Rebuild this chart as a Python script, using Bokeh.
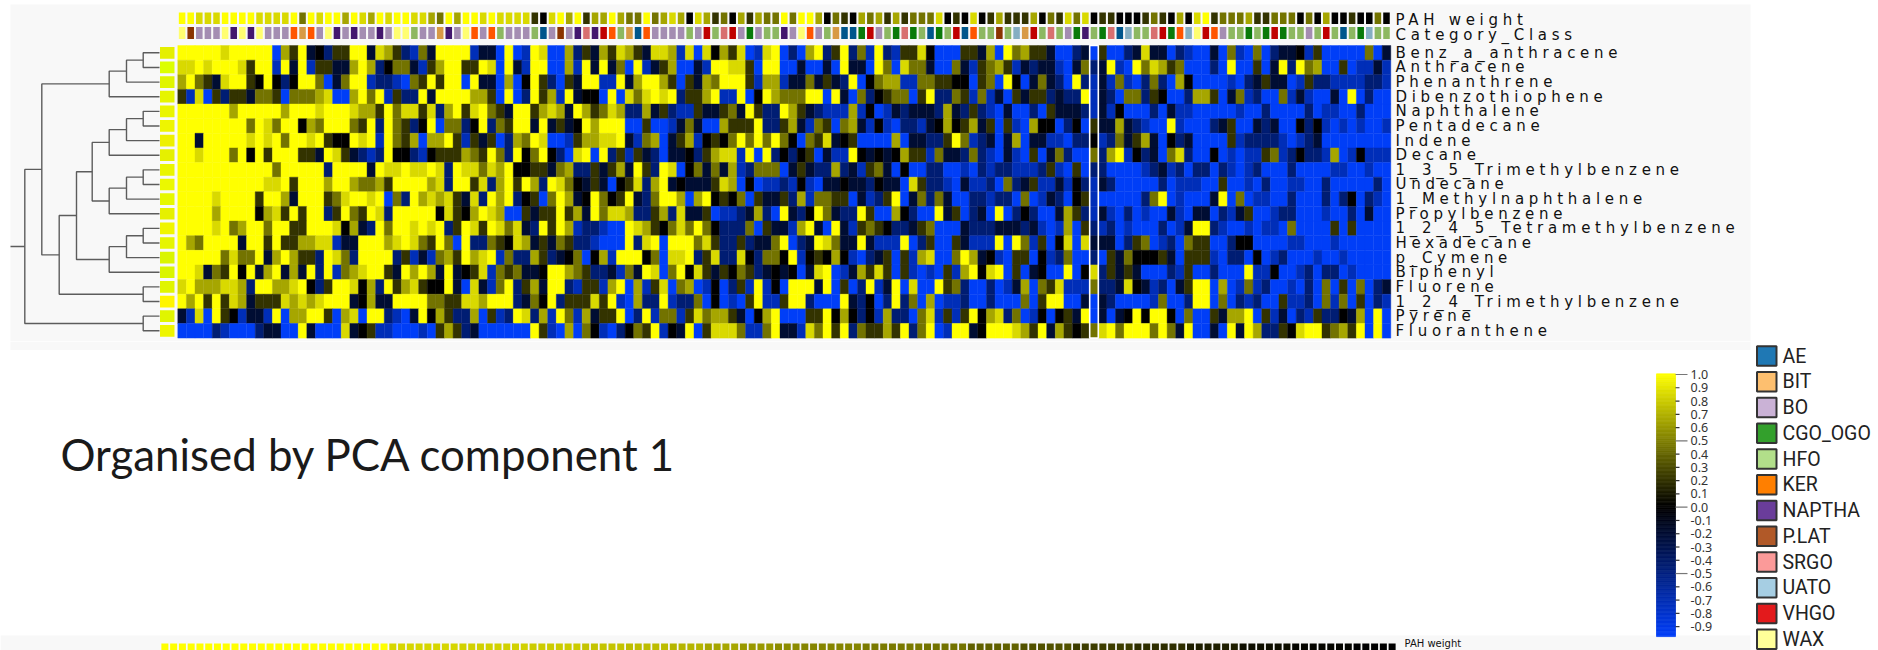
from bokeh.plotting import figure
from bokeh.layouts import column
from bokeh.models import Range1d
from bokeh.core.properties import value
from bokeh.embed import file_html
from bokeh.resources import INLINE

# ---------- data ----------
row_names = ["Benz_a_anthracene", "Anthracene", "Phenanthrene", "Dibenzothiophene", "Naphthalene",
             "Pentadecane", "Indene", "Decane", "1_3_5_Trimethylbenzene", "Undecane",
             "1_Methylnaphthalene", "Propylbenzene", "1_2_4_5_Tetramethylbenzene", "Hexadecane",
             "p_Cymene", "Biphenyl", "Fluorene", "1_2_4_Trimethylbenzene", "Pyrene", "Fluoranthene"]

# one letter per cell, see LEVEL
LEVEL = {"Y": 1.0, "U": .85, "O": .65, "o": .45, "d": .2, "k": 0.0, "n": -.2, "N": -.45, "B": -.72, "b": -.97}

benz = "YYYYYUYYYYYbOdYnkNddYYnUOdNBonYYYYBnnb" + "YbBYUbbONdnOdUOdnUUOBUbUkOdUbBUYbNbOYNdYNoBYNBddUkbbbddnO" + "b" + "YoOddnbbNnbdbbNnUnnbNBbbnboBbobNnnkBdbbbbbobn"
anth = "UUYUYYYUdYYBYnYBddnnOYONkoonBdOYYddYUb" + "YnBYYbbOBYnYnobYBndObbnBYYUUdbYYbbnbbnbYnnbYobUoonbbonBdo" + "O" + "dBnNnnBbnoNnYBbYoUOdobbbNbYbbdbnYNYoObbdbBBnB"
phen = "OYodnUYYdkYkNkYYobnoYYBNNBbodYdYYbYnnb" + "ObkYdNbdnYYBBYnOYYOdbdnOoYYYdBOOBnnondnNYbkoOOBBooddkkbdo" + "b" + "YkbnonNbYNBnBoBbNoNbOkbbbbBbNndnnbBdNNBBBBNNB"
dibe = "dBUbdNddnoodboooOUbbOYoYBdNNYnYYYYOOdb" + "YbNYdOBYnkkbYbUoUYUYNddOYBBYbkYOoooYYbYnboNkdoobdYNNodBoB" + "n" + "bdnddNnNNYBnNbooNdkbbNOOdbnoBNbboBnBbbnbYbNbb"
naph = "YYYYYYOYYYYYOYYYUYYYUOOdYoUUdUNOYdUYod" + "nYYdOUOnYOdoUONNOndNBBdnndonYdNNYOdnNBBBOBkbBnNnnnNOnNdNB" + "b" + "nbbNbdnnnNBnBkbbbNbnBBbbbbbBbbNbbbbNbBBbbNbbb"
pent = "YYYYYYYYoYUoYYkOoYYYodYNYodNkYbooNkYNo" + "dYYnYndnkYOYYYbbdbbBnonbbOdddYNNdOnBodboOnBkBbNNBnkOkdOnd" + "b" + "dBbOkkbNkbdnnOnNBbbYBbbbNndbbnNnbbkNkBbBbBbbB"
inde = "YYnYYYYYUYUYoYYUYdkkYUYBYodObOOYdBdndb" + "NOoYUbbBdOOUUYnBoObndOBkdkoYoYoYokbodUnkdbbbbObnnNNdYoBNn" + "b" + "nObnnBBbNNkBNondOnbkNnbbbbdBNNNNBbBNnbbbbbbbb"
deca = "YYUYYYoYkYdYYYddnYUdnNBNYkkNBkdddOodYo" + "NYkoYkNbUYbYNdBdnNbnnkNdOUUBYbYNkNkdbnBBYknknkOddBonnNoNB" + "b" + "nBbdbnoNbboNOYBkNnboUNbbkbBbBBdoBNkNNBObBkBBB"
t135 = "YYYYYYYYYYYoYYYYYNYYYYnYUUYUUYUNYUUoUO" + "YkkddnoONNdndOnYdNYUbkononOBNooobndnNNONnBdonbkbbNNbbBbNB" + "N" + "NBBBNdBbdbNNbbbbBNnBNbNNbNBbBNbbbNbbbbBBbbBbb"
unde = "YYYYYYYYYYUUYdYYYOYYOooOdYYYYOUNYYdUNO" + "YdYONYUokndnbkdUNOYnknnndUObkbBBNBkBbnnknnNknnbUdNNBbnBBN" + "b" + "oNndBBnBkNBnNbbbbbNbBBBbbdbbBbNbbBBbbNbbbbbNb"
mnap = "YYYYUYYYYdYYOnYYYdoUYYUYboNYOUOUdnUNYO" + "YNkdboYOnkYokdYnNoYYObOYkdkobdnndNOBooddbnBNdYbnoNonbbNNB" + "N" + "NbobBnNbkdBbbbbbNoYbBbbbnYbobBBbbNbbbNbNkbNBb"
prop = "YYYYOYYYYkOUdYdYYNdYodYUNYYYYYkUdkOYUO" + "bbdnddYdOnYoUUONNdONUnndbBBNnONbYnNkYonNNYdbbOkNbbYndbNnb" + "Y" + "bNkNbbnOdNBnBbNbBbbnBbnnbNBndbbBNNbbbBbbNbnbb"
t1245 = "YYYYUYoOYYoYYddYYYUkOnNYoYYUYUYNdYUdYU" + "oUnNYdYOBNNBbbYUOdkoUoYokNNNobdnnBOYnbYnBdodkNNndobbbnNNN" + "n" + "nnNnBbBObdNBNbBbbbNbBnYYNBbbBbBBbobbbbdbdbbbb"
hexa = "YOoYYYYnYYdYddOOUUBnnYYYOUYUodYobYNNod" + "kUOndnodNNBbbbYNUYbYYYoUdNNdNnnoYbNnYUonnYnBBBYbNdbbdnBBB" + "Y" + "bYoBdbkUbUnnnbNdobBNboddbbNkkbbbbBBbbbBbbbbbb"
cyme = "YYYYYoUooYnOYOddNYUoNYYYYNdBnBoOdYOUYB" + "oNNOdNnkobkOBYYYkobUUYNdUNNUkNookYBkdkOkBbNndbdBOUbboYOnk" + "B" + "bddbkBNobbNbdnokkkdnbdddBbNNbkbBNbbbBbbBbbbbb"
biph = "YYUnodYkYnOYnOnYNYBoOUYYdnYOYOnYnkdUBo" + "donnkYYOodNNnBonYUboYkUdndkodNnknkbnUYbBnOdUdbdBbBbdBOYkU" + "Y" + "bdbnkbbYbkUNdndnbbbNBdbbNbbbYBBkbbBNbNNbBbbbb"
fluo = "UYOOOUUONYYOOUYkNdYYUkONYdOUdkkYnbUnBo" + "YNdOnYYNBddBOYbOBdUboObBkbNdBYBkbYYYnYbdbNYBnYbUbbYdoNbbN" + "b" + "BnObodUBBBoNNnUknBNbndYYbObBoBNbbBbNbobdbobNn"
t124 = "YOYdYdUOndddUOUOUYYYnkOnnYYYYooddUUOYY" + "YNnokYNdddUdYBbONNYBNNobkbBbdYBBdYYNbbbYnNkbNYNobObBBNbbN" + "b" + "bbobdYYbbnbnNbbbbBobbNYYbobNBNbbdBBNboBobdbNB"
pyre = "nBUbYdkBnnBYbOOYYdbOUbYYNBbnYkOdNNObdB" + "NYUNOBYoBOnddYbNYBooBdUoOOdnbkOYbbbddYkOkNkBONNboUBdBdYkO" + "U" + "NobBkbkdnYbnbnkYkYYkbobbdnOOYbdBnbNBdNNknObYb"
flan = "bbbbNBbbbNnnbbYnbbbUnkdBBbbbBbdOdNnbbb" + "bbbYdBbObokBbNkodYBknYbdUUUoBBoYnnBUoYdYNoddOdYNoYbBYYnkY" + "Y" + "YUOdYnOdkdoUYoYYYoYonYbbnbYnYONNdkUYYdoOdYbYb"

pah_weight = "YYUUUYYYYUUUUYoYUYYOYUOYUYYUUOoYOYYUYU"[:38] + "UUUdkUYOYdOOYOooYoOUOkUOdokOdOooYoYYOkodkOoOdOdoooUkdkUkd" + "O" + "dddOkodUoUkddkkkdodkOkUYdoooOddoookokOkkdkkok"
category_class = "WPBBBWNWNWBBBKIKBWNBNBBNBWWHBBINBWKBKH" + "BBBHABPBNSNVKHIAKBBBBHBVHSVBCBHHNBWKBHIAACVBHCSCHACHVAKHHP" + "HUIVHSHBCNHCSAUHHSVCKUWVKBHHCHCVCHHBHVHAHCUHH"

cat_names = ["AE", "BIT", "BO", "CGO_OGO", "HFO", "KER", "NAPTHA", "P.LAT", "SRGO", "UATO", "VHGO", "WAX"]
cat_codes = ["A", "I", "B", "C", "H", "K", "N", "P", "S", "U", "V", "W"]
legend_colors = ["#1f78b4", "#fdbf6f", "#cab2d6", "#33a02c", "#b2df8a", "#ff7f00", "#6a3d9a", "#b15928", "#fb9a99", "#a6cee3", "#e31a1c", "#ffff99"]
strip_colors = ["#00568c", "#d89a45", "#a48db2", "#0a7a0a", "#8db861", "#ff5500", "#43176e", "#8a3400", "#d87070", "#85aec2", "#c00000", "#fffe70"]

row_tags = ["#e5ef00", "#dcff00", "#e0f500", "#e6f500", "#eaf500", "#eef500", "#eef000", "#e5f000", "#eaf500", "#ebf800",
            "#e6f800", "#e6f000", "#f0f500", "#e6f500", "#daf500", "#daf500", "#e0f500", "#fff500", "#e0f500", "#eef500"]

lower_pah = ([1.0]*26 + [.84]*8 + [.82]*8 + [.80]*6 + [.77]*5 + [.74]*5 + [.71]*4 + [.65]*4 + [.6]*4 + [.55]*3
             + [.52]*7 + [.48]*7 + [.45]*5 + [.38]*6 + [.32]*6 + [.24]*7 + [.18]*6 + [.12]*6 + [.06]*6 + [.02]*7 + [0.0]*5)

scale_ticks = [1.0, .9, .8, .7, .6, .5, .4, .3, .2, .1, 0.0, -.1, -.2, -.3, -.4, -.5, -.6, -.7, -.8, -.9]
selected_col = 106

rows = [benz, anth, phen, dibe, naph, pent, inde, deca, t135, unde, mnap, prop, t1245, hexa, cyme, biph, fluo, t124, pyre, flan]
for s in rows + [pah_weight, category_class]:
    assert len(s) == 141, len(s)
assert len(lower_pah) == 141

# ---------- layout ----------
W, H_TOP, H_BOT = 1878, 341, 309
SPLIT = H_TOP
X0, CW = 177.3, 1213.0 / 141
Y0, RH = 45.0, 14.63
X0B, CWB = 160.0, 1236.0 / 141


def rgb(v):
    if v >= 0:
        c = round(255 * v)
        return "#%02x%02x00" % (c, c)
    return "#00%02x%02x" % (round(255 * .25 * -v), round(255 * -v))


def base(h, y_top, y_bot):
    p = figure(width=W, height=h, x_range=Range1d(0, W), y_range=Range1d(y_bot, y_top),
               output_backend="svg", toolbar_location=None, min_border=0, outline_line_color=None,
               background_fill_color="white", border_fill_color="white")
    p.axis.visible = False
    p.grid.visible = False
    return p


# ---------- top figure ----------
top = base(H_TOP, 0, SPLIT)
top.styles = {"letter-spacing": "4.7px"}
top.extra_x_ranges["col"] = Range1d((0 - X0) / CW, (W - X0) / CW)
top.extra_y_ranges["row"] = Range1d((SPLIT - Y0) / RH, (0 - Y0) / RH)

top.quad(left=[10], right=[1750], top=[4], bottom=[SPLIT], fill_color="#f8f8f8", line_color=None)

cl, cr, ct, cb, cc = [], [], [], [], []
for r, s in enumerate(rows):
    for c, ch in enumerate(s):
        cl.append(c); cr.append(c + 1); ct.append(r); cb.append(r + 1); cc.append(rgb(LEVEL[ch]))
top.quad(left=cl, right=cr, top=ct, bottom=cb, fill_color=cc, line_color=cc, line_width=0.4,
         x_range_name="col", y_range_name="row")

# selected column frame
top.quad(left=[selected_col], right=[selected_col + 1], top=[0], bottom=[len(rows)], fill_color=None,
         line_color="white", line_width=1.6, x_range_name="col", y_range_name="row")

# annotation strips
idx = list(range(141))
top.quad(left=[i + .12 for i in idx], right=[i + .88 for i in idx], top=[12] * 141, bottom=[23.5] * 141,
         fill_color=[rgb(LEVEL[ch]) for ch in pah_weight], line_color=None, x_range_name="col")
code_color = dict(zip(cat_codes, strip_colors))
top.quad(left=[i + .12 for i in idx], right=[i + .88 for i in idx], top=[26.6] * 141, bottom=[38.5] * 141,
         fill_color=[code_color[ch] for ch in category_class], line_color=None, x_range_name="col")

# row tags
top.quad(left=[159.5] * 20, right=[174] * 20, top=[r + .1 for r in range(20)], bottom=[r + .9 for r in range(20)],
         fill_color=row_tags, line_color=None, y_range_name="row")

# dendrogram
dend_x, dend_y = [], []


def leaf(r):
    return (r + .5, 159.0)


def join(a, b, x):
    dend_x.append([a[1], x, x, b[1]])
    dend_y.append([a[0], a[0], b[0], b[0]])
    return ((a[0] + b[0]) / 2, x)


A = join(join(join(leaf(0), leaf(1), 142.7), leaf(2), 126), leaf(3), 108.7)
F = join(join(join(leaf(4), leaf(5), 142.7), leaf(6), 126), leaf(7), 108.7)
G = join(join(join(leaf(8), leaf(9), 142.7), leaf(10), 126), leaf(11), 108.7)
E = join(join(join(leaf(12), leaf(13), 142.7), leaf(14), 126), leaf(15), 108.7)
C = join(join(F, G, 91.7), E, 76)
B = join(C, join(leaf(16), leaf(17), 142.7), 58.7)
R = join(join(A, B, 41.3), join(leaf(18), leaf(19), 142.7), 24.3)
dend_x.append([R[1], 10]); dend_y.append([R[0], R[0]])
top.multi_line(dend_x, dend_y, line_color="#5c5c5c", line_width=1.4, y_range_name="row")
top.quad(left=[166], right=[168], top=[20.2], bottom=[20.4], fill_color="#999999", line_color=None, y_range_name="row")

label_font = value("DejaVu Sans")
top.text(x=[1395] * 20, y=[r + .5 for r in range(20)], text=row_names, text_font=label_font, text_font_size="15px",
         text_color="#111111", text_baseline="middle", y_range_name="row")
top.text(x=[1395, 1395], y=[19.5, 34.5], text=["PAH weight", "Category_Class"], text_font=label_font,
         text_font_size="15px", text_color="#111111", text_baseline="middle")

# ---------- bottom figure ----------
bot = base(H_BOT, SPLIT, 650)
bot.extra_x_ranges["colb"] = Range1d((0 - X0B) / CWB, (W - X0B) / CWB)
bot.extra_y_ranges["scale"] = Range1d((506.7 - 650) / 132.7, (506.7 - SPLIT) / 132.7)
bot.extra_y_ranges["legend"] = Range1d((650 - 355.5) / 25.75, (SPLIT - 355.5) / 25.75)

bot.quad(left=[10], right=[1750], top=[SPLIT], bottom=[349.5], fill_color="#f8f8f8", line_color=None)
bot.quad(left=[0], right=[1750], top=[635], bottom=[650], fill_color="#f8f8f8", line_color=None)

bot.text(x=[60], y=[453], text=["Organised by PCA component 1"], text_font=value("Lato"), text_font_size="43.8px",
         text_color="#1a1a1a", text_baseline="middle")

# lower panel strip
bot.quad(left=[i + .1 for i in idx], right=[i + .9 for i in idx], top=[643] * 141, bottom=[650] * 141,
         fill_color=[rgb(v) for v in lower_pah], line_color=None, x_range_name="colb")
bot.text(x=[1404], y=[637.5], text=["PAH weight"], text_font=label_font, text_font_size="10px", text_color="#111111",
         text_baseline="top")

# colour scale
steps = [1.0 - i * .01 for i in range(198)]
scale_colors = [rgb(v) for v in steps]
bot.quad(left=[1656] * len(steps), right=[1675] * len(steps), top=[v + .005 for v in steps],
         bottom=[v - .005 for v in steps], fill_color=scale_colors, line_color=scale_colors, line_width=0.7,
         y_range_name="scale")
major = {1.0, .5, 0.0, -.5}
bot.multi_line([[1675, 1687 if t in major else 1679] for t in scale_ticks], [[t, t] for t in scale_ticks],
               line_color=["#777777" if t in major else "#333333" for t in scale_ticks], line_width=1.2,
               y_range_name="scale")
bot.text(x=[1690] * len(scale_ticks), y=scale_ticks, text=["%.1f" % t for t in scale_ticks], text_font=value("Noto Sans"),
         text_font_size="12.5px", text_color="#333333", text_baseline="middle", y_range_name="scale")

# legend
lpos = list(range(12))
bot.quad(left=[1756.5] * 12, right=[1776] * 12, top=[i - .38 for i in lpos], bottom=[i + .38 for i in lpos],
         fill_color=legend_colors, line_color="#333333", line_width=2, y_range_name="legend")
bot.text(x=[1782] * 12, y=lpos, text=cat_names, text_font=value("Roboto"), text_font_size="19.5px",
         text_color="#222222", text_baseline="middle", y_range_name="legend")

layout = column(top, bot, spacing=0)
open("out.html", "w").write(file_html(layout, INLINE))
